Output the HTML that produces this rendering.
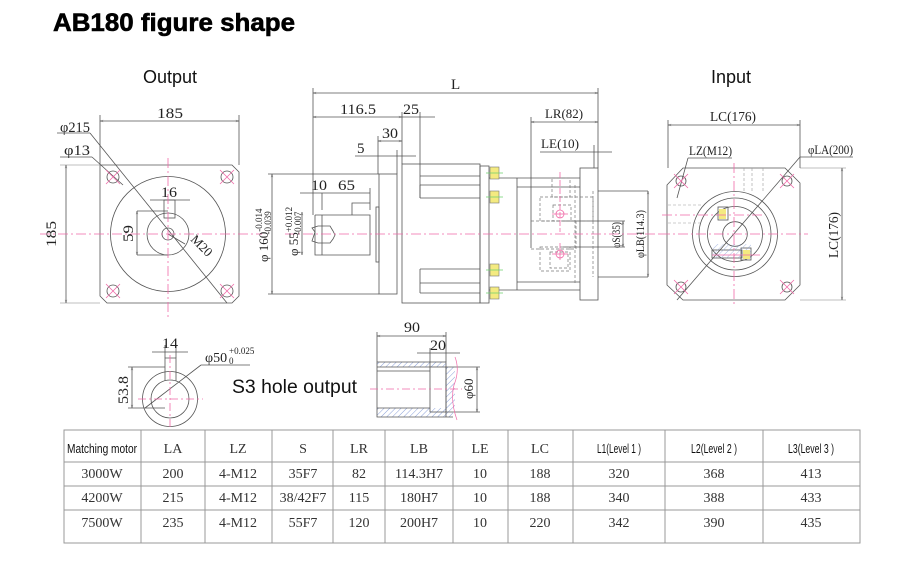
<!DOCTYPE html>
<html><head><meta charset="utf-8"><style>
html,body{margin:0;padding:0;background:#fff;}
svg{display:block}
.d{font-family:"Liberation Serif",serif;fill:#222}
.t{font-family:"Liberation Serif",serif;fill:#333}
.h{font-family:"Liberation Sans",sans-serif;fill:#111}
</style></head><body>
<svg width="906" height="578" viewBox="0 0 906 578" xmlns="http://www.w3.org/2000/svg" font-size="15">
<defs>
<marker id="a" viewBox="0 0 10 10" refX="10" refY="5" markerWidth="6" markerHeight="4" orient="auto-start-reverse"><path d="M0,2 L10,5 L0,8" fill="none" stroke="#555" stroke-width="1"/></marker>
<pattern id="hat" width="4" height="4" patternUnits="userSpaceOnUse" patternTransform="rotate(45)"><line x1="0" y1="0" x2="0" y2="4" stroke="#8aa0d8" stroke-width="1"/></pattern>
</defs>
<rect width="906" height="578" fill="#fff"/>
<text x="53" y="31" font-family="Liberation Sans,sans-serif" font-weight="bold" font-size="25" textLength="242" lengthAdjust="spacingAndGlyphs" fill="#000" stroke="#000" stroke-width="0.6">AB180 figure shape</text>
<text x="143" y="83" font-family="Liberation Sans,sans-serif" font-size="18" fill="#111">Output</text>
<text x="711" y="83" font-family="Liberation Sans,sans-serif" font-size="18" fill="#111">Input</text>

<!-- LEFT VIEW -->
<g fill="none" stroke="#555" stroke-width="0.8">
<path d="M100,165 L232,165 L239,172 L239,296 L232,303 L107,303 L100,296 Z"/>
<line x1="60" y1="165" x2="100" y2="165" stroke="#aaa"/>
<line x1="60" y1="303" x2="100" y2="303" stroke="#aaa"/>
<circle cx="168" cy="234" r="57.5"/>
<circle cx="168" cy="234" r="21"/>
<circle cx="168" cy="234" r="6"/>
<rect x="164" y="200" width="11" height="18"/>
<circle cx="113" cy="177" r="6"/><circle cx="227" cy="177" r="6"/>
<circle cx="113" cy="291" r="6"/><circle cx="227" cy="291" r="6"/>
<line x1="100" y1="121" x2="239" y2="121" marker-start="url(#a)" marker-end="url(#a)"/>
<line x1="100" y1="115" x2="100" y2="165"/><line x1="239" y1="115" x2="239" y2="165"/>
<line x1="66" y1="165" x2="66" y2="303" marker-start="url(#a)" marker-end="url(#a)"/>
<line x1="57" y1="133" x2="90" y2="133"/><line x1="90" y1="133" x2="227" y2="303"/>
<line x1="60" y1="157" x2="92" y2="157"/><line x1="92" y1="157" x2="123" y2="185"/>
<line x1="150" y1="200" x2="190" y2="200"/>
<line x1="137" y1="211" x2="137" y2="255" marker-start="url(#a)" marker-end="url(#a)"/>
<line x1="137" y1="211" x2="168" y2="211"/><line x1="137" y1="255" x2="168" y2="255"/>
<line x1="168" y1="234" x2="185" y2="244"/>
</g>
<g stroke="#f06aa8" stroke-width="0.8" fill="none">
<line x1="40" y1="234" x2="262" y2="234" stroke-dasharray="10,3,2,3"/>
<line x1="168" y1="158" x2="168" y2="318" stroke-dasharray="10,3,2,3"/>
<path d="M106,170 L120,184 M120,170 L106,184 M220,170 L234,184 M234,170 L220,184 M106,284 L120,298 M120,284 L106,298 M220,284 L234,298 M234,284 L220,298"/>
</g>
<text class="d" x="157" y="118" textLength="26" lengthAdjust="spacingAndGlyphs">185</text>
<text class="d" x="60" y="132" textLength="30" lengthAdjust="spacingAndGlyphs">φ215</text>
<text class="d" x="64" y="155" textLength="26" lengthAdjust="spacingAndGlyphs">φ13</text>
<text class="d" x="161" y="197" textLength="16" lengthAdjust="spacingAndGlyphs">16</text>
<text class="d" transform="translate(56,247) rotate(-90)" textLength="26" lengthAdjust="spacingAndGlyphs">185</text>
<text class="d" transform="translate(133,242) rotate(-90)" textLength="17" lengthAdjust="spacingAndGlyphs">59</text>
<text class="d" transform="translate(190,240) rotate(45)" font-size="13">M20</text>

<!-- CENTER VIEW -->
<g fill="none" stroke="#555" stroke-width="0.8">
<line x1="313" y1="93" x2="598" y2="93" marker-start="url(#a)" marker-end="url(#a)"/>
<line x1="313" y1="88" x2="313" y2="215"/>
<line x1="598" y1="88" x2="598" y2="168"/>
<line x1="313" y1="117" x2="402" y2="117" marker-start="url(#a)" marker-end="url(#a)"/>
<line x1="402" y1="117" x2="435" y2="117"/>
<line x1="420" y1="112" x2="420" y2="198"/>
<line x1="402" y1="112" x2="402" y2="164"/>
<line x1="378" y1="141" x2="402" y2="141" marker-start="url(#a)" marker-end="url(#a)"/>
<line x1="378" y1="136" x2="378" y2="174"/>
<line x1="355" y1="156" x2="416" y2="156"/>
<line x1="397" y1="150" x2="397" y2="174"/>
<rect x="379" y="174" width="18" height="120"/>
<rect x="376" y="207" width="3" height="55"/>
<rect x="402" y="164" width="78" height="139"/>
<path d="M420,176 L480,176 M420,185 L480,185 M420,198 L480,198 M420,269 L480,269 M420,283 L480,283 M420,293 L480,293 M420,185 L420,198 M420,269 L420,293"/>
<rect x="480" y="166" width="9" height="137"/>
<path d="M322,215 L370,215 L370,255 L322,255 M315,215 L322,215 L322,255 L315,255 L315,215"/>
<path d="M352,215 L352,203 L370,203" />
<path d="M315,232 L312,228 L318,226 L330,226 L333,231 L335,235 L333,239 L330,243 L318,243 L312,241 Z"/>
<line x1="300" y1="193" x2="370" y2="193"/><line x1="370" y1="188" x2="370" y2="210"/>
<line x1="322" y1="193" x2="322" y2="210"/>
<line x1="302" y1="212" x2="302" y2="255" marker-start="url(#a)" marker-end="url(#a)"/>
<line x1="272" y1="174" x2="272" y2="294" marker-start="url(#a)" marker-end="url(#a)"/>
<line x1="268" y1="174" x2="379" y2="174"/><line x1="268" y1="294" x2="379" y2="294"/>
<path d="M489,178 L580,178 M517,187 L580,187 M489,290 L580,290 M517,282 L580,282 M517,178 L517,290"/>
<line x1="531" y1="117" x2="531" y2="248"/>
<rect x="580" y="168" width="18" height="132"/>
<path d="M598,191 L648,191 M598,277 L648,277"/>
<line x1="531" y1="122" x2="598" y2="122" marker-start="url(#a)" marker-end="url(#a)"/>
<line x1="540" y1="152" x2="612" y2="152"/>
<line x1="594" y1="145" x2="594" y2="168"/>
<line x1="563" y1="221" x2="625" y2="221"/><line x1="563" y1="247" x2="625" y2="247"/>
<line x1="623" y1="221" x2="623" y2="247" marker-start="url(#a)" marker-end="url(#a)"/>
<line x1="648" y1="191" x2="648" y2="277" marker-start="url(#a)" marker-end="url(#a)"/>
</g>
<g fill="none" stroke="#777" stroke-width="0.7" stroke-dasharray="3,2">
<rect x="552" y="178" width="18" height="19"/>
<rect x="540" y="197" width="53" height="24"/>
<rect x="531" y="221" width="45" height="28"/>
<rect x="540" y="247" width="30" height="24"/>
<rect x="553" y="205" width="18" height="16"/>
<rect x="550" y="252" width="18" height="16"/>
<line x1="593" y1="191" x2="593" y2="277"/>
<line x1="575" y1="185" x2="575" y2="285"/>
</g>
<g fill="#f4ea80" stroke="#777" stroke-width="0.6">
<rect x="490" y="167" width="9" height="12"/><rect x="490" y="191" width="9" height="12"/>
<rect x="490" y="264" width="9" height="12"/><rect x="490" y="287" width="9" height="12"/>
</g>
<g stroke="#6ed06e" stroke-width="0.8"><line x1="486" y1="173" x2="503" y2="173"/><line x1="486" y1="197" x2="503" y2="197"/><line x1="486" y1="270" x2="503" y2="270"/><line x1="486" y1="293" x2="503" y2="293"/></g>
<g stroke="#f06aa8" stroke-width="0.8" fill="none">
<line x1="285" y1="234" x2="660" y2="234" stroke-dasharray="10,3,2,3"/>
<line x1="560" y1="172" x2="560" y2="232" stroke-dasharray="6,2"/>
<line x1="560" y1="243" x2="560" y2="260"/>
<circle cx="560" cy="214" r="4"/><circle cx="560" cy="254" r="4"/>
<line x1="552" y1="214" x2="568" y2="214"/><line x1="552" y1="254" x2="568" y2="254"/>
</g>
<text class="d" x="451" y="89">L</text>
<text class="d" x="340" y="114" textLength="36" lengthAdjust="spacingAndGlyphs">116.5</text>
<text class="d" x="403" y="114" textLength="16" lengthAdjust="spacingAndGlyphs">25</text>
<text class="d" x="382" y="138" textLength="16" lengthAdjust="spacingAndGlyphs">30</text>
<text class="d" x="357" y="153">5</text>
<text class="d" x="311" y="190" textLength="16" lengthAdjust="spacingAndGlyphs">10</text>
<text class="d" x="338" y="190" textLength="17" lengthAdjust="spacingAndGlyphs">65</text>
<text class="d" transform="translate(268,262) rotate(-90)" font-size="13">φ 160<tspan font-size="9" dy="-6">-0.014</tspan><tspan font-size="9" dx="-26" dy="9">-0.039</tspan></text>
<text class="d" transform="translate(298,256) rotate(-90)" font-size="13">φ 55<tspan font-size="9" dy="-6">+0.012</tspan><tspan font-size="9" dx="-28" dy="9">-0.007</tspan></text>
<text class="d" x="545" y="118" font-size="13" textLength="38" lengthAdjust="spacingAndGlyphs">LR(82)</text>
<text class="d" x="541" y="148" font-size="13" textLength="38" lengthAdjust="spacingAndGlyphs">LE(10)</text>
<text class="d" transform="translate(620,248) rotate(-90)" font-size="12" textLength="26" lengthAdjust="spacingAndGlyphs">φS(35)</text>
<text class="d" transform="translate(644,258) rotate(-90)" font-size="12" textLength="48" lengthAdjust="spacingAndGlyphs">φLB(114.3)</text>

<!-- RIGHT VIEW -->
<g fill="none" stroke="#555" stroke-width="0.8">
<path d="M683,168 L785,168 L800,183 L800,285 L785,300 L683,300 L667,285 L667,185 Z"/>
<line x1="800" y1="168" x2="846" y2="168" stroke="#aaa"/><line x1="800" y1="300" x2="846" y2="300" stroke="#aaa"/>
<circle cx="735" cy="234" r="42.5"/><circle cx="735" cy="234" r="36"/>
<circle cx="735" cy="234" r="27.5"/><circle cx="735" cy="234" r="12.3"/>
<circle cx="681" cy="181" r="5"/><circle cx="787" cy="181" r="5"/>
<circle cx="681" cy="287" r="5"/><circle cx="787" cy="287" r="5"/>
<line x1="668" y1="125" x2="800" y2="125" marker-start="url(#a)" marker-end="url(#a)"/>
<line x1="668" y1="120" x2="668" y2="168"/><line x1="800" y1="120" x2="800" y2="168"/>
<line x1="842" y1="168" x2="842" y2="300" marker-start="url(#a)" marker-end="url(#a)"/>
<line x1="688" y1="158" x2="732" y2="158"/><line x1="688" y1="158" x2="677" y2="198"/>
<line x1="800" y1="157" x2="853" y2="157"/><line x1="800" y1="157" x2="677" y2="300"/>
<rect x="718" y="207" width="10" height="13"/>
<rect x="712" y="250" width="30" height="8"/>
<rect x="741" y="248" width="10" height="12"/>
</g>
<g fill="none" stroke="#999" stroke-width="0.6" stroke-dasharray="3,2">
<line x1="668" y1="205" x2="702" y2="205"/><line x1="668" y1="223" x2="700" y2="223"/>
<line x1="744" y1="168" x2="744" y2="193"/><line x1="752" y1="168" x2="752" y2="193"/><line x1="763" y1="168" x2="763" y2="193"/>
</g>
<rect x="713" y="244" width="38" height="14" fill="url(#hat)" opacity="0.7"/>
<rect x="719" y="209" width="7" height="10" fill="#f4ea80"/><rect x="743" y="250" width="7" height="9" fill="#f4ea80"/>
<g stroke="#f06aa8" stroke-width="0.8" fill="none">
<line x1="660" y1="234" x2="808" y2="234" stroke-dasharray="10,3,2,3"/>
<line x1="734" y1="163" x2="734" y2="306" stroke-dasharray="10,3,2,3"/>
<line x1="662" y1="215" x2="763" y2="215" stroke-dasharray="10,3,2,3"/>
<line x1="712" y1="255" x2="760" y2="255"/>
<path d="M674,174 L688,188 M688,174 L674,188 M780,174 L794,188 M794,174 L780,188 M674,280 L688,294 M688,280 L674,294 M780,280 L794,294 M794,280 L780,294"/>
</g>
<text class="d" x="710" y="121" font-size="14" textLength="46" lengthAdjust="spacingAndGlyphs">LC(176)</text>
<text class="d" x="689" y="155" font-size="13" textLength="43" lengthAdjust="spacingAndGlyphs">LZ(M12)</text>
<text class="d" x="808" y="154" font-size="13" textLength="45" lengthAdjust="spacingAndGlyphs">φLA(200)</text>
<text class="d" transform="translate(838,258) rotate(-90)" font-size="14" textLength="46" lengthAdjust="spacingAndGlyphs">LC(176)</text>

<!-- LOWER LEFT KEY -->
<g fill="none" stroke="#555" stroke-width="0.8">
<circle cx="170" cy="399" r="27.5"/>
<circle cx="170" cy="399" r="19"/>
<path d="M165,381 L165,358 L176,358 L176,381"/>
<line x1="152" y1="352" x2="188" y2="352"/>
<line x1="165" y1="345" x2="165" y2="358"/><line x1="176" y1="345" x2="176" y2="358"/>
<line x1="132" y1="367" x2="132" y2="408" marker-start="url(#a)" marker-end="url(#a)"/>
<line x1="128" y1="367" x2="165" y2="367"/><line x1="128" y1="408" x2="165" y2="408"/>
<line x1="201" y1="365" x2="250" y2="365"/><line x1="201" y1="365" x2="145" y2="408"/>
</g>
<g stroke="#f06aa8" stroke-width="0.8"><line x1="138" y1="399" x2="203" y2="399" stroke-dasharray="8,3,2,3"/><line x1="170" y1="355" x2="170" y2="430" stroke-dasharray="8,3,2,3"/></g>
<text class="d" x="162" y="348" textLength="16" lengthAdjust="spacingAndGlyphs">14</text>
<text class="d" x="205" y="362" font-size="14">φ50</text>
<text class="d" x="229" y="354" font-size="9">+0.025</text>
<text class="d" x="229" y="364" font-size="9">0</text>
<text class="d" transform="translate(128,404) rotate(-90)" textLength="28" lengthAdjust="spacingAndGlyphs">53.8</text>
<text x="232" y="393" font-family="Liberation Sans,sans-serif" font-size="19" fill="#111" textLength="125" lengthAdjust="spacingAndGlyphs">S3 hole output</text>

<!-- LOWER SHAFT -->
<rect x="377" y="362" width="69" height="5" fill="url(#hat)"/>
<rect x="377" y="408" width="76" height="9" fill="url(#hat)"/>
<rect x="446" y="367" width="9" height="41" fill="url(#hat)"/>
<g fill="none" stroke="#555" stroke-width="0.8">
<path d="M377,362 L377,417 L453,417 M377,362 L446,362 L446,417 M377,367 L430,367 M377,371 L430,371 M377,408 L430,408"/>
<rect x="430" y="367" width="16" height="45"/>
<line x1="446" y1="367" x2="480" y2="367"/><line x1="446" y1="412" x2="480" y2="412"/>
<line x1="377" y1="336" x2="446" y2="336" marker-start="url(#a)" marker-end="url(#a)"/>
<line x1="377" y1="332" x2="377" y2="362"/><line x1="446" y1="332" x2="446" y2="362"/>
<line x1="417" y1="353" x2="460" y2="353"/><line x1="430" y1="348" x2="430" y2="367"/>
<line x1="477" y1="367" x2="477" y2="412" marker-start="url(#a)" marker-end="url(#a)"/>
</g>
<path d="M455,357 Q460,370 454,385 Q450,400 457,420" fill="none" stroke="#f06aa8" stroke-width="0.7"/>
<line x1="370" y1="389" x2="462" y2="389" stroke="#f06aa8" stroke-width="0.8" stroke-dasharray="8,3,2,3"/>
<text class="d" x="404" y="332" textLength="16" lengthAdjust="spacingAndGlyphs">90</text>
<text class="d" x="430" y="350" textLength="16" lengthAdjust="spacingAndGlyphs">20</text>
<text class="d" transform="translate(473,399) rotate(-90)" font-size="13">φ60</text>

<!-- TABLE -->
<g stroke="#999" stroke-width="1" fill="none">
<rect x="64" y="430" width="796" height="113"/>
<line x1="64" y1="462" x2="860" y2="462"/><line x1="64" y1="486" x2="860" y2="486"/><line x1="64" y1="510" x2="860" y2="510"/>
<line x1="141" y1="430" x2="141" y2="543"/><line x1="205" y1="430" x2="205" y2="543"/><line x1="272" y1="430" x2="272" y2="543"/>
<line x1="333" y1="430" x2="333" y2="543"/><line x1="385" y1="430" x2="385" y2="543"/><line x1="453" y1="430" x2="453" y2="543"/>
<line x1="508" y1="430" x2="508" y2="543"/><line x1="573" y1="430" x2="573" y2="543"/><line x1="665" y1="430" x2="665" y2="543"/>
<line x1="763" y1="430" x2="763" y2="543"/>
</g>
<g class="t" text-anchor="middle" font-size="14">
<text x="102" y="453" class="h" font-size="13" textLength="70" lengthAdjust="spacingAndGlyphs">Matching motor</text>
<text x="173" y="453">LA</text><text x="238" y="453">LZ</text><text x="303" y="453">S</text><text x="359" y="453">LR</text>
<text x="419" y="453">LB</text><text x="480" y="453">LE</text><text x="540" y="453">LC</text>
<text x="619" y="453" class="h" font-size="13" textLength="44" lengthAdjust="spacingAndGlyphs">L1(Level 1 )</text>
<text x="714" y="453" class="h" font-size="13" textLength="46" lengthAdjust="spacingAndGlyphs">L2(Level 2 )</text>
<text x="811" y="453" class="h" font-size="13" textLength="46" lengthAdjust="spacingAndGlyphs">L3(Level 3 )</text>
<text x="102" y="478">3000W</text><text x="173" y="478">200</text><text x="238" y="478">4-M12</text><text x="303" y="478">35F7</text><text x="359" y="478">82</text><text x="419" y="478">114.3H7</text><text x="480" y="478">10</text><text x="540" y="478">188</text><text x="619" y="478">320</text><text x="714" y="478">368</text><text x="811" y="478">413</text>
<text x="102" y="502">4200W</text><text x="173" y="502">215</text><text x="238" y="502">4-M12</text><text x="303" y="502">38/42F7</text><text x="359" y="502">115</text><text x="419" y="502">180H7</text><text x="480" y="502">10</text><text x="540" y="502">188</text><text x="619" y="502">340</text><text x="714" y="502">388</text><text x="811" y="502">433</text>
<text x="102" y="527">7500W</text><text x="173" y="527">235</text><text x="238" y="527">4-M12</text><text x="303" y="527">55F7</text><text x="359" y="527">120</text><text x="419" y="527">200H7</text><text x="480" y="527">10</text><text x="540" y="527">220</text><text x="619" y="527">342</text><text x="714" y="527">390</text><text x="811" y="527">435</text>
</g>
</svg>
</body></html>
